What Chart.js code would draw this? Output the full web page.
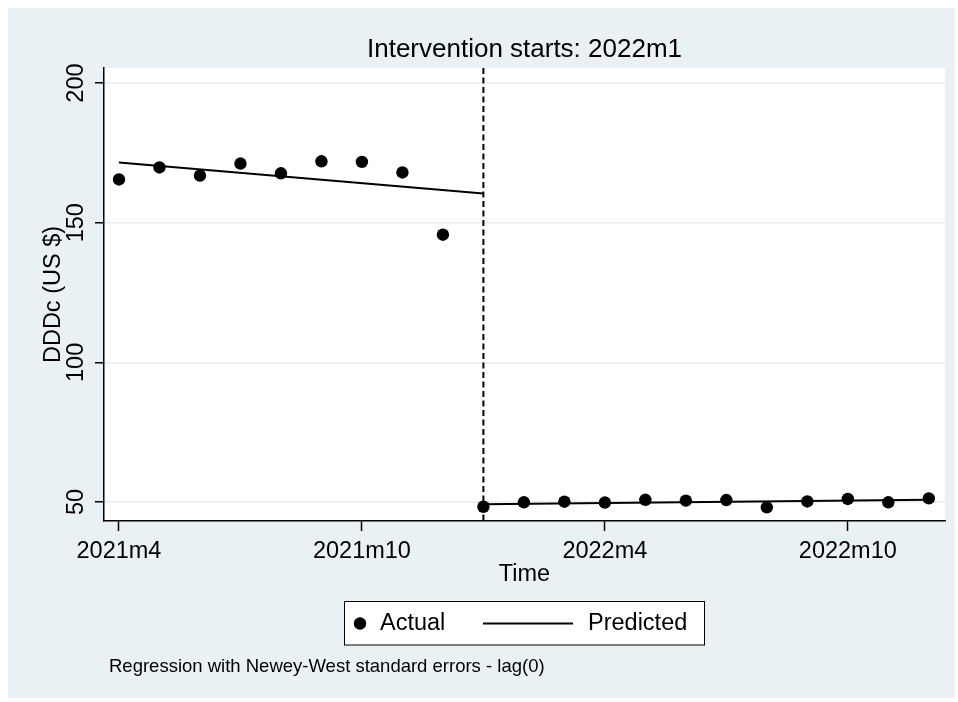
<!DOCTYPE html>
<html>
<head>
<meta charset="utf-8">
<script src="https://cdn.jsdelivr.net/npm/chart.js@4"></script>
<style>
html,body{margin:0;padding:0;background:#fff;}
#wrap{width:958px;height:702px;}
</style>
</head>
<body>
<div id="wrap"><canvas id="c" width="958" height="702"></canvas></div>
<script>
// ---- data ----
const monthIndex = [0,1,2,3,4,5,6,7,8,9,10,11,12,13,14,15,16,17,18,19,20]; // 2021m4 .. 2022m12
const actualValues = [165.5,169.8,166.9,171.2,167.7,172.0,171.8,168.0,145.7,
                      48.3,49.9,50.1,49.8,50.8,50.5,50.7,48.1,50.2,51.1,49.9,51.3];
const predictedPreX = [0, 9];
const predictedPreY = [171.6, 160.5];
const predictedPostX = [9, 20];
const predictedPostY = [49.2, 50.8];
const interventionIndex = 9; // 2022m1
const xTickValues = [0, 6, 12, 18];
const xTickLabels = ['2021m4', '2021m10', '2022m4', '2022m10'];
const yTickValues = [50, 100, 150, 200];
const xRange = [-0.37, 20.4];
const yRange = [43.2, 205.4];
const titleText = 'Intervention starts: 2022m1';
const xTitle = 'Time';
const yTitle = 'DDDc (US $)';
const noteText = 'Regression with Newey-West standard errors - lag(0)';

const FONT = '"Liberation Sans", Arial, Helvetica, sans-serif';
const BG = '#eaf1f4';
const GRID = '#e4edf1';

const bgPlugin = {
  id: 'bg',
  beforeDraw(chart) {
    const {ctx, chartArea} = chart;
    ctx.save();
    ctx.fillStyle = '#ffffff';
    ctx.fillRect(0, 0, chart.width, chart.height);
    ctx.fillStyle = BG;
    ctx.fillRect(8, 8, 947, 690);
    ctx.fillStyle = '#ffffff';
    ctx.fillRect(chartArea.left, chartArea.top, chartArea.right - chartArea.left, chartArea.bottom - chartArea.top);
    ctx.restore();
  },
  beforeDatasetsDraw(chart) {
    const {ctx, chartArea, scales} = chart;
    const x = scales.x.getPixelForValue(interventionIndex);
    ctx.save();
    ctx.strokeStyle = '#000';
    ctx.lineWidth = 2;
    ctx.setLineDash([6, 3.5]);
    ctx.beginPath();
    ctx.moveTo(x, chartArea.top);
    ctx.lineTo(x, chartArea.bottom);
    ctx.stroke();
    ctx.restore();
  },
  afterDraw(chart) {
    const {ctx, chartArea} = chart;
    const ds = chart.data.datasets;
    ctx.save();
    // title centred over the plot region
    ctx.fillStyle = '#000';
    ctx.font = '26px ' + FONT;
    ctx.textAlign = 'center';
    ctx.textBaseline = 'middle';
    ctx.fillText(titleText, (chartArea.left + chartArea.right) / 2, 49.5);
    // legend box
    ctx.fillStyle = '#fff';
    ctx.fillRect(344.5, 601.5, 360, 43.5);
    ctx.strokeStyle = '#000';
    ctx.lineWidth = 1;
    ctx.strokeRect(344.5, 601.5, 360, 43.5);
    const ly = 623.5;
    ctx.fillStyle = '#000';
    ctx.beginPath();
    ctx.arc(360, ly, 6.2, 0, Math.PI * 2);
    ctx.fill();
    ctx.font = '23.5px ' + FONT;
    ctx.textBaseline = 'middle';
    ctx.textAlign = 'left';
    ctx.fillText(ds[0].label, 380, ly);
    ctx.strokeStyle = '#000';
    ctx.lineWidth = 2;
    ctx.beginPath();
    ctx.moveTo(483, ly);
    ctx.lineTo(573, ly);
    ctx.stroke();
    ctx.fillText(ds[1].label, 588, ly);
    // note
    ctx.font = '18.5px ' + FONT;
    ctx.fillText(noteText, 109, 667);
    ctx.restore();
  }
};

const pts = monthIndex.map((m, i) => ({x: m, y: actualValues[i]}));
const pre = predictedPreX.map((m, i) => ({x: m, y: predictedPreY[i]}));
const post = predictedPostX.map((m, i) => ({x: m, y: predictedPostY[i]}));

new Chart(document.getElementById('c'), {
  type: 'scatter',
  data: {
    datasets: [
      {label: 'Actual', data: pts, showLine: false, pointRadius: 6.2, pointHoverRadius: 6.2,
       pointBackgroundColor: '#000', pointBorderWidth: 0, borderColor: '#000', order: 0},
      {label: 'Predicted', data: pre, showLine: true, pointRadius: 0, borderColor: '#000',
       borderWidth: 2, order: 1},
      {label: 'Predicted (post)', data: post, showLine: true, pointRadius: 0, borderColor: '#000',
       borderWidth: 2, order: 1}
    ]
  },
  options: {
    responsive: false,
    animation: false,
    layout: {padding: {left: 0, right: 13, top: 68, bottom: 111}},
    plugins: {
      legend: {display: false},
      tooltip: {enabled: false},
      title: {display: false}
    },
    scales: {
      x: {
        type: 'linear', min: xRange[0], max: xRange[1],
        afterBuildTicks(s) { s.ticks = xTickValues.map(v => ({value: v})); },
        afterFit(s) { s.height = 70; },
        grid: {drawOnChartArea: false, drawTicks: true, tickLength: 10, tickColor: '#000', tickWidth: 1.5},
        border: {display: true, color: '#000', width: 1.5},
        ticks: {autoSkip: false, maxRotation: 0, minRotation: 0, padding: 6.8, color: '#000',
                font: {family: FONT, size: 23.5},
                callback(v) { const i = xTickValues.indexOf(v); return i >= 0 ? xTickLabels[i] : ''; }},
        title: {display: true, text: xTitle, color: '#000', font: {family: FONT, size: 23.5},
                padding: {top: 0, bottom: 2}}
      },
      y: {
        type: 'linear', min: yRange[0], max: yRange[1],
        afterBuildTicks(s) { s.ticks = yTickValues.map(v => ({value: v})); },
        afterFit(s) { s.width = 104; },
        grid: {drawOnChartArea: true, color: GRID, lineWidth: 1.5, drawTicks: true, tickLength: 9,
               tickColor: '#000', tickWidth: 1.5},
        border: {display: true, color: '#000', width: 1.5},
        ticks: {minRotation: 90, maxRotation: 90, crossAlign: 'center', padding: -1.6, color: '#000',
                font: {family: FONT, size: 23.5}},
        title: {display: true, text: yTitle, color: '#000', font: {family: FONT, size: 23.5},
                padding: {top: 39.5, bottom: 0}}
      }
    }
  },
  plugins: [bgPlugin]
});
</script>
</body>
</html>
